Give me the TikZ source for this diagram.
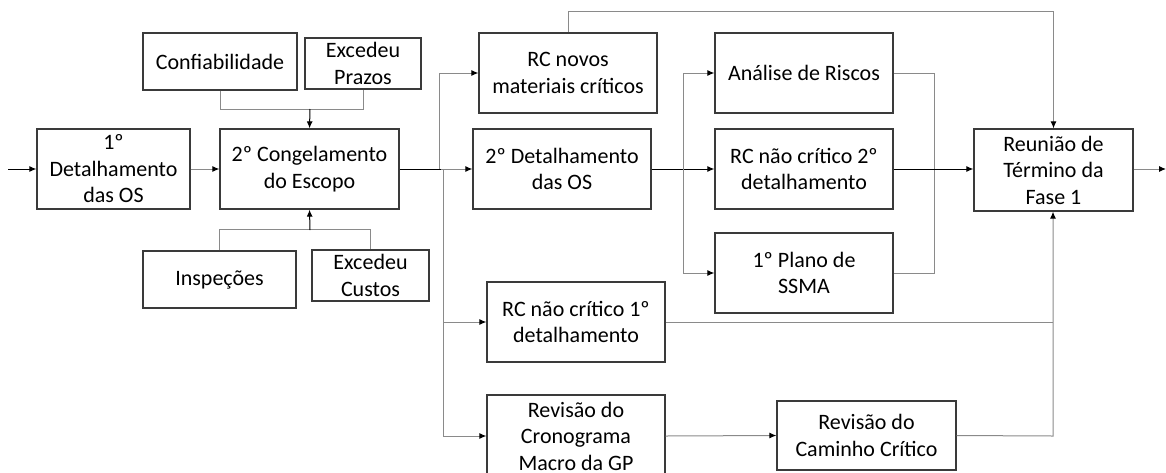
\documentclass[tikz,border=0pt]{standalone}
\usepackage{fontspec}
\setmainfont{Carlito}
\usetikzlibrary{arrows.meta}
\definecolor{boxc}{HTML}{3A3A3A}
\definecolor{linec}{HTML}{8A8A8A}
\tikzset{
  x=1pt,y=-1pt,
  box/.style={draw=boxc,line width=1.3pt,align=center,inner sep=0pt,
    font=\fontsize{22}{26.5}\selectfont},
  conn/.style={draw=linec,line width=1pt},
  connk/.style={draw=black,line width=1pt},
  arr/.style={-{Latex[length=7pt,width=6pt,black]}},
}
\begin{document}
\begin{tikzpicture}
\useasboundingbox (0,0) rectangle (1166,472);
% boxes
\node[box,minimum width=153pt,minimum height=80pt] (d1) at (113.5,169) {1º\\Detalhamento\\das OS};
\node[box,minimum width=179pt,minimum height=80pt] (cong) at (309.5,169) {2º Congelamento\\do Escopo};
\node[box,minimum width=154pt,minimum height=57pt] (conf) at (220,61.5) {Confiabilidade};
\node[box,minimum width=116pt,minimum height=51pt] (prazos) at (363,63.5) {Excedeu\\Prazos};
\node[box,minimum width=153pt,minimum height=57pt] (insp) at (219.5,279.5) {Inspeções};
\node[box,minimum width=117pt,minimum height=51pt] (custos) at (370.5,275.5) {Excedeu\\Custos};
\node[box,minimum width=178pt,minimum height=80pt] (rcnovos) at (568,73) {RC novos\\materiais críticos};
\node[box,minimum width=178pt,minimum height=80pt] (det2) at (562,169) {2º Detalhamento\\das OS};
\node[box,minimum width=178pt,minimum height=80pt] (analise) at (804,73) {Análise de Riscos};
\node[box,minimum width=178pt,minimum height=80pt] (rcn2) at (804,169) {RC não crítico 2º\\detalhamento};
\node[box,minimum width=178pt,minimum height=80pt] (plano) at (804,273) {1º Plano de\\SSMA};
\node[box,minimum width=178pt,minimum height=80pt] (rcn1) at (576,322) {RC não crítico 1º\\detalhamento};
\node[box,minimum width=178pt,minimum height=82pt] (crono) at (576,436) {Revisão do\\Cronograma\\Macro da GP};
\node[box,minimum width=179pt,minimum height=69pt] (caminho) at (866.5,435.5) {Revisão do\\Caminho Crítico};
\node[box,minimum width=159pt,minimum height=82pt] (reuniao) at (1053.5,170) {Reunião de\\Término da\\Fase 1};
% coordinates
\coordinate (in) at (8,169);
\coordinate (out) at (1166,169);
\coordinate (jt) at (310,109);
\coordinate (jb) at (310,230);
\coordinate (s1) at (441,169);
\coordinate (s2) at (683,169);
\coordinate (top) at (568,11);
\coordinate (rb) at (1053,436);
\coordinate (rr) at (934,273);
% connectors
\draw[connk,arr] (in) -- (d1.west);
\draw[conn,arr] (d1.east) -- (cong.west);
\draw[conn] (conf.south) -- ++(0,19) -| (prazos.south);
\draw[connk,arr] (jt) -- (cong.north);
\draw[conn] (insp.north) -- ++(0,-21) -| (custos.north);
\draw[connk,arr] (jb) -- (cong.south);
\draw[connk] (cong.east) -- (s1);
\draw[conn,arr] (s1) -- (det2.west);
\draw[conn,arr] ([xshift=-2pt]s1) |- (rcnovos.west);
\draw[conn,arr] ([xshift=2pt]s1) |- (rcn1.west);
\draw[conn,arr] ([xshift=2pt]s1) |- (crono.west);
\draw[conn,arr] (rcnovos.north) -- (top) -| (reuniao.north);
\draw[connk,arr] (det2.east) -- (rcn2.west);
\draw[conn,arr] (s2) |- (analise.west);
\draw[conn,arr] (s2) |- (plano.west);
\draw[conn] (analise.east) -| (rr) -- (plano.east);
\draw[connk,arr] (rcn2.east) -- (rcn2.east -| reuniao.west);
\draw[conn,arr] (reuniao.east |- out) -- (out);
\draw[conn,arr] (caminho.east) -- (rb) -- (rb |- reuniao.south);
\draw[conn] (rcn1.east) -- (rcn1.east -| rb);
\draw[conn,arr] (crono.east) -- (caminho.west);
\end{tikzpicture}
\end{document}
